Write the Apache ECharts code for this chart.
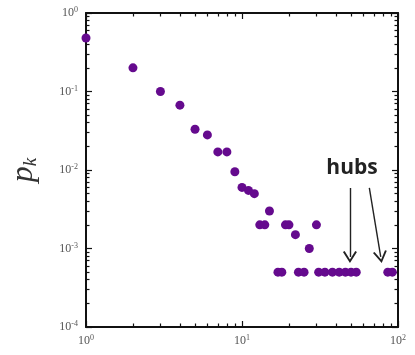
<!DOCTYPE html>
<html><head><meta charset="utf-8">
<script src="https://cdn.jsdelivr.net/npm/echarts@6/dist/echarts.min.js"></script>
<style>html,body{margin:0;padding:0;background:#fff}#c{width:415px;height:355px}</style>
</head><body><div id="c"></div>
<script>
// degree k and its probability p_k
const degrees = [1,2,3,4,5,6,7,8,9,10,11,12,13,14,15,17,18,19,20,22,23,25,27,30,31,34,38,42,46,50,54,86,92];
const pk = [0.48,0.2,0.1,0.067,0.033,0.028,0.017,0.017,0.0095,0.006,0.0055,0.005,0.002,0.002,0.003,
            0.0005,0.0005,0.002,0.002,0.0015,0.0005,0.0005,0.001,0.002,
            0.0005,0.0005,0.0005,0.0005,0.0005,0.0005,0.0005,0.0005,0.0005];
const xMajorTicks = [1,10,100];
const xMinorTicks = [2,3,4,5,6,7,8,9,20,30,40,50,60,70,80,90];
const yMajorTicks = [1e-4,1e-3,1e-2,1e-1,1];
const yMinorTicks = [];
[1e-4,1e-3,1e-2,1e-1].forEach(d => { for (let m = 2; m <= 9; m++) yMinorTicks.push(d * m); });
// hub annotation arrows: [from k, from p], [to k, to p]
const hubArrows = [
  [[49.2, 0.0059], [49.2, 0.00078]],
  [[65.5, 0.0059], [77.5, 0.00078]]
];
const hubLabel = 'hubs';

const lg = v => Math.log10(v);
const labelFont = 'Liberation Serif';
const axisColor = '#111';

function tickAxis(kind, pos, ticks, len, withLine, withLabel) {
  const isX = kind === 'x';
  return {
    type: 'value',
    position: pos,
    min: isX ? 0 : -4,
    max: isX ? 2 : 0,
    axisLine: { show: withLine, onZero: false, lineStyle: { color: axisColor, width: 2 } },
    axisTick: { show: true, inside: true, length: len, customValues: ticks.map(lg),
                lineStyle: { color: axisColor, width: 1.2 } },
    axisLabel: withLabel ? {
      show: true, customValues: ticks.map(lg), margin: isX ? 7 : 8,
      formatter: v => '{b|10}{s|' + Math.round(v) + '}',
      rich: {
        b: { fontFamily: labelFont, fontSize: 12, color: '#555' },
        s: { fontFamily: labelFont, fontSize: 8, color: '#555', verticalAlign: 'top', padding: [0,0,6,0] }
      }
    } : { show: false },
    splitLine: { show: false }
  };
}

const chart = echarts.init(document.getElementById('c'), null, { renderer: 'canvas' });
chart.setOption({
  animation: false,
  grid: { left: 86, right: 17, top: 13, bottom: 28, outerBoundsMode: 'none' },
  xAxis: [
    { type: 'log', min: 1, max: 100, show: false },
    tickAxis('x', 'bottom', xMajorTicks, 6, true, true),
    tickAxis('x', 'bottom', xMinorTicks, 3.5, false, false),
    tickAxis('x', 'top', xMajorTicks, 6, true, false),
    tickAxis('x', 'top', xMinorTicks, 3.5, false, false)
  ],
  yAxis: [
    { type: 'log', min: 1e-4, max: 1, show: false },
    tickAxis('y', 'left', yMajorTicks, 6, true, true),
    tickAxis('y', 'left', yMinorTicks, 3.5, false, false),
    tickAxis('y', 'right', yMajorTicks, 6, true, false),
    tickAxis('y', 'right', yMinorTicks, 3.5, false, false)
  ],
  series: [{
    type: 'scatter',
    xAxisIndex: 0, yAxisIndex: 0,
    data: degrees.map((k, i) => [k, pk[i]]),
    symbolSize: 9,
    itemStyle: { color: '#650a8e', opacity: 1 },
    markLine: {
      silent: true,
      symbol: ['none', 'path://M50,0 L100,85 L88,92 L50,26 L12,92 L0,85 Z'],
      symbolSize: [14, 12],
      lineStyle: { color: '#222', width: 1.4, type: 'solid' },
      label: { show: false },
      data: hubArrows.map(a => [{ coord: a[0] }, { coord: a[1] }])
    }
  }],
  graphic: [
    {
      type: 'text', x: 352, y: 168,
      style: { text: hubLabel, fontFamily: 'Open Sans', fontWeight: 'bold', fontSize: 21,
               fill: '#222', align: 'center', verticalAlign: 'middle' }
    },
    {
      type: 'text', x: 24, y: 170, rotation: Math.PI / 2,
      style: {
        text: '{p|p}{k|k}', align: 'center', verticalAlign: 'middle',
        rich: {
          p: { fontFamily: labelFont, fontStyle: 'italic', fontSize: 32, fill: '#333' },
          k: { fontFamily: labelFont, fontStyle: 'italic', fontSize: 19, fill: '#333', padding: [14,0,0,0] }
        }
      }
    }
  ]
});
</script></body></html>
